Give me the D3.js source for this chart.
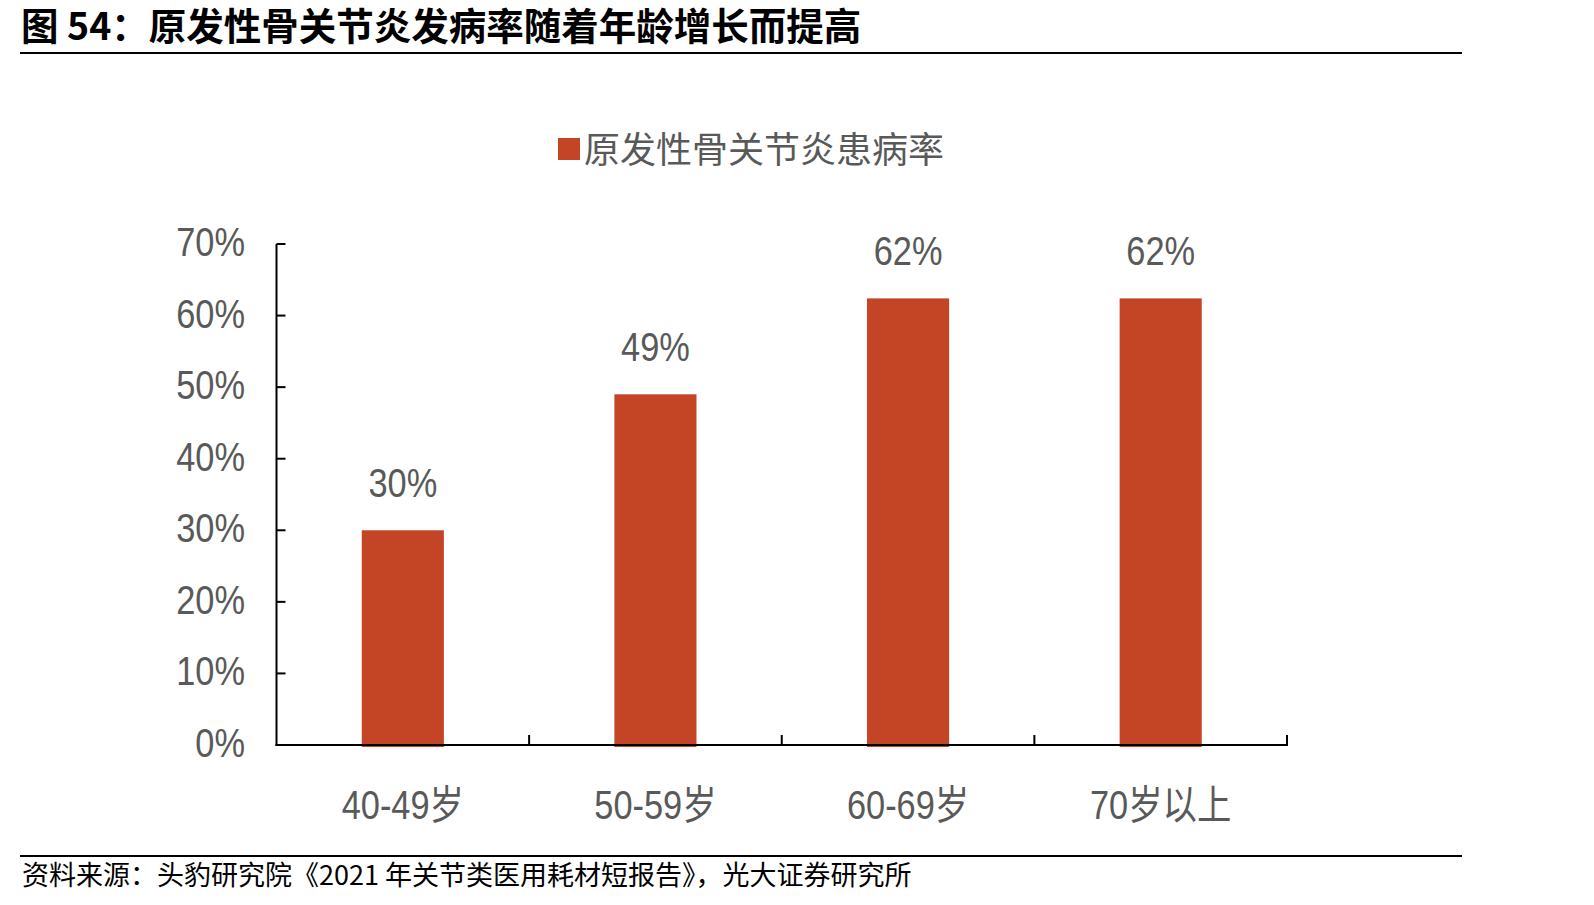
<!DOCTYPE html>
<html>
<head>
<meta charset="utf-8">
<script src="https://d3js.org/d3.v7.min.js"></script>
<style>
  body { margin: 0; background: #fff; }
</style>
</head>
<body>
<div id="chart"></div>
<script>
// data
const categories = ["40-49岁", "50-59岁", "60-69岁", "70岁以上"];
const rates = [0.30, 0.49, 0.624, 0.624];
const yTicks = [0, 0.1, 0.2, 0.3, 0.4, 0.5, 0.6, 0.7];
const seriesName = "原发性骨关节炎患病率";
const titleText = "图 54：原发性骨关节炎发病率随着年龄增长而提高";
const sourceText = "资料来源：头豹研究院《2021 年关节类医用耗材短报告》，光大证券研究所";

const width = 1594, height = 905;
const barColor = "#c44426";
const textColor = "#595959";
const latin = "'Liberation Sans', Arial, 'Noto Sans CJK SC', sans-serif";
const cjk = "'Noto Sans CJK SC', sans-serif";
const pct = d3.format(".0%");

const svg = d3.select("#chart").append("svg")
    .attr("width", width)
    .attr("height", height);

// title + rules
svg.append("text")
    .attr("x", 21).attr("y", 40)
    .attr("font-family", cjk).attr("font-weight", "bold")
    .attr("font-size", 37.5).attr("fill", "#000")
    .text(titleText);
svg.append("line").attr("x1", 20).attr("x2", 1462).attr("y1", 53).attr("y2", 53)
    .attr("stroke", "#000").attr("stroke-width", 2);
svg.append("line").attr("x1", 20).attr("x2", 1462).attr("y1", 856).attr("y2", 856)
    .attr("stroke", "#000").attr("stroke-width", 2);
svg.append("text")
    .attr("x", 22).attr("y", 885)
    .attr("font-family", cjk).attr("font-size", 27).attr("fill", "#000")
    .text(sourceText);

// scales
const x = d3.scaleBand().domain(categories).range([276.5, 1287]).padding(0);
const y = d3.scaleLinear().domain([0, 0.7]).range([745, 244]);
const barW = x.bandwidth() * 0.325;

// condensed-looking text helper
function squeezed(g, px, py, str, anchor) {
    return g.append("text")
        .attr("transform", `translate(${px},${py}) scale(0.86,1)`)
        .attr("text-anchor", anchor)
        .attr("font-family", latin)
        .attr("font-size", 40)
        .attr("fill", textColor)
        .text(str);
}

// legend
svg.append("rect").attr("x", 558).attr("y", 138).attr("width", 22).attr("height", 22)
    .attr("fill", barColor);
svg.append("text")
    .attr("x", 584).attr("y", 163)
    .attr("font-family", cjk).attr("font-size", 36).attr("fill", textColor)
    .text(seriesName);

// bars
svg.append("g").selectAll("rect")
    .data(rates)
    .join("rect")
    .attr("x", (d, i) => x(categories[i]) + x.bandwidth() / 2 - barW / 2)
    .attr("y", d => y(d))
    .attr("width", barW)
    .attr("height", d => y(0) - y(d) + 2)
    .attr("fill", barColor);

// value labels
const lab = svg.append("g");
rates.forEach((d, i) => {
    squeezed(lab, x(categories[i]) + x.bandwidth() / 2, y(d) - 33, pct(d), "middle");
});

// y axis
const axisG = svg.append("g");
axisG.append("line").attr("x1", x.range()[0]).attr("x2", x.range()[0])
    .attr("y1", y(0.7)).attr("y2", y(0) + 1)
    .attr("stroke", "#000").attr("stroke-width", 2);
axisG.selectAll(".ytick").data(yTicks).join("line")
    .attr("x1", x.range()[0]).attr("x2", x.range()[0] + 9)
    .attr("y1", d => y(d)).attr("y2", d => y(d))
    .attr("stroke", "#000").attr("stroke-width", 2);
yTicks.forEach(t => {
    squeezed(axisG, 245, y(t) + 12, pct(t), "end");
});

// x axis
axisG.append("line").attr("x1", x.range()[0] - 1).attr("x2", x.range()[1] + 1)
    .attr("y1", y(0)).attr("y2", y(0))
    .attr("stroke", "#000").attr("stroke-width", 2);
const bounds = categories.map(c => x(c)).slice(1).concat([x.range()[1]]);
axisG.selectAll(".xtick").data(bounds).join("line")
    .attr("x1", d => d).attr("x2", d => d)
    .attr("y1", y(0)).attr("y2", y(0) - 10)
    .attr("stroke", "#000").attr("stroke-width", 2);
categories.forEach(c => {
    squeezed(axisG, x(c) + x.bandwidth() / 2, 819, c, "middle");
});
</script>
</body>
</html>
